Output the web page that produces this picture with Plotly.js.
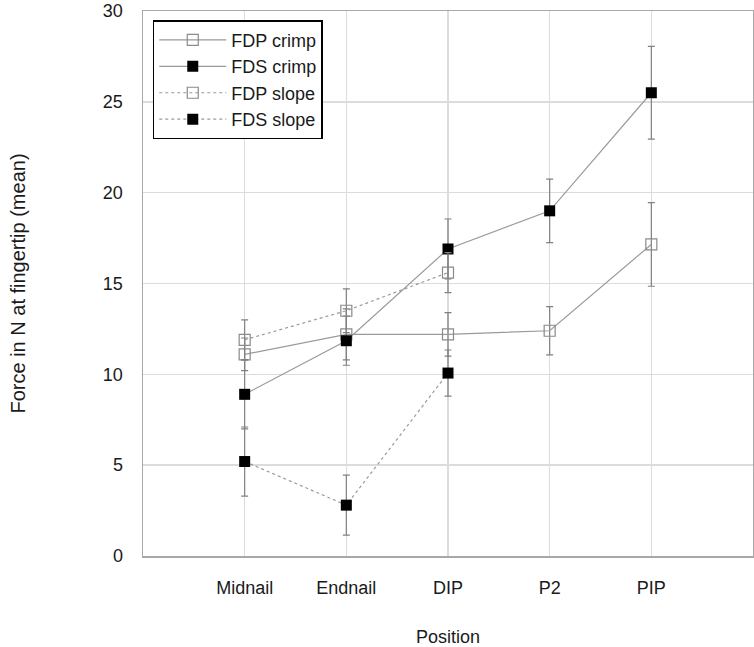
<!DOCTYPE html>
<html>
<head>
<meta charset="utf-8">
<script src="https://cdn.plot.ly/plotly-3.0.1.min.js"></script>
<style>html,body{margin:0;padding:0;background:#fff;}#chart{width:754px;height:647px;}</style>
</head>
<body>
<div id="chart"></div>
<script>
const categories = ["Midnail", "Endnail", "DIP", "P2", "PIP"];
const slopeCategories = ["Midnail", "Endnail", "DIP"];
const fdpCrimp = [11.1, 12.2, 12.2, 12.4, 17.15];
const fdpCrimpErr = [0.9, 1.4, 1.2, 1.33, 2.3];
const fdsCrimp = [8.9, 11.85, 16.9, 19.0, 25.5];
const fdsCrimpErr = [1.9, 1.35, 1.65, 1.75, 2.55];
const fdpSlope = [11.9, 13.5, 15.6];
const fdpSlopeErr = [1.1, 1.2, 1.1];
const fdsSlope = [5.2, 2.8, 10.07];
const fdsSlopeErr = [1.9, 1.65, 1.27];
const yTicks = [0, 5, 10, 15, 20, 25, 30];

const errStyle = (arr) => ({type: 'data', array: arr, visible: true, color: '#808080', thickness: 1.2, width: 3.5});
const openMarker = {symbol: 'square-open', size: 11, color: '#8a8a8a', line: {width: 1.2, color: '#8a8a8a'}};
const filledMarker = {symbol: 'square', size: 11, color: '#000000', line: {width: 0}};

const traces = [
  {name: 'FDP crimp', x: categories, y: fdpCrimp, error_y: errStyle(fdpCrimpErr), mode: 'lines+markers',
   line: {color: '#9a9a9a', width: 1.2}, marker: openMarker},
  {name: 'FDS crimp', x: categories, y: fdsCrimp, error_y: errStyle(fdsCrimpErr), mode: 'lines+markers',
   line: {color: '#9a9a9a', width: 1.2}, marker: filledMarker},
  {name: 'FDP slope', x: slopeCategories, y: fdpSlope, error_y: errStyle(fdpSlopeErr), mode: 'lines+markers',
   line: {color: '#9a9a9a', width: 1.2, dash: 'dot'}, marker: openMarker},
  {name: 'FDS slope', x: slopeCategories, y: fdsSlope, error_y: errStyle(fdsSlopeErr), mode: 'lines+markers',
   line: {color: '#9a9a9a', width: 1.2, dash: 'dot'}, marker: filledMarker}
];

const layout = {
  width: 754, height: 647,
  margin: {l: 143, r: 1, t: 11, b: 91},
  paper_bgcolor: '#ffffff', plot_bgcolor: '#ffffff',
  font: {family: 'Liberation Sans, Arial, sans-serif', size: 18, color: '#1a1a1a'},
  showlegend: true,
  legend: {x: 0.016, y: 0.983, xanchor: 'left', yanchor: 'top', bordercolor: '#000000', borderwidth: 1.5,
           bgcolor: '#ffffff', font: {size: 18, color: '#1a1a1a'}, tracegroupgap: 0, itemwidth: 67},
  xaxis: {
    type: 'category', categoryarray: categories, categoryorder: 'array', range: [-1, 5],
    showgrid: true, gridcolor: '#dcdcdc', gridwidth: 1.5, zeroline: false,
    showline: true, linecolor: '#a8a8a8', linewidth: 1.5, mirror: true,
    ticks: '', ticklabelstandoff: 15,
    title: {text: 'Position', font: {size: 18}, standoff: 34}
  },
  yaxis: {
    range: [0, 30], tickvals: yTicks, ticktext: yTicks.map(String),
    showgrid: true, gridcolor: '#dcdcdc', gridwidth: 1.5, zeroline: false,
    showline: true, linecolor: '#a8a8a8', linewidth: 1.5, mirror: true,
    ticks: '', ticklabelstandoff: 15,
    title: {text: 'Force in N at fingertip (mean)', font: {size: 20}, standoff: 72}
  }
};

Plotly.newPlot('chart', traces, layout, {displayModeBar: false, staticPlot: true});
</script>
</body>
</html>
